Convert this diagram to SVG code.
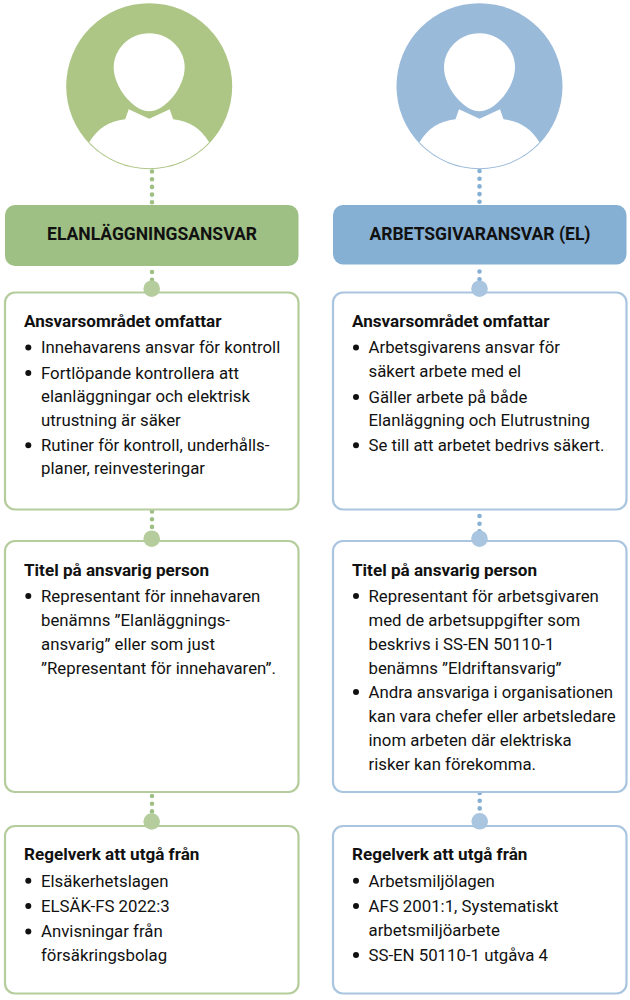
<svg xmlns="http://www.w3.org/2000/svg" width="630" height="1000" viewBox="0 0 630 1000">
<style>
text{font-family:"Roboto","Liberation Sans",sans-serif;font-size:16.8px;fill:#111}
.h{font-weight:700;font-size:17.1px}
.t{font-weight:700;font-size:17.5px;text-anchor:middle}
.gb{fill:#fff;stroke:#b5cd9c;stroke-width:2.2}
.bb{fill:#fff;stroke:#a9c5e0;stroke-width:2.2}
.gd{fill:none;stroke:#9fc084;stroke-width:4.6;stroke-linecap:round;stroke-dasharray:0 7.7}
.bd{fill:none;stroke:#85afd3;stroke-width:4.6;stroke-linecap:round;stroke-dasharray:0 7.7}
circle.d{r:3px;fill:#111}
</style>
<defs>
<g id="person">
<path fill="#fff" d="M0 -53C-20 -53 -35.500 -37 -35.500 -19C-35.500 1 -16 25 0 25C16 25 35.500 1 35.500 -19C35.500 -37 20 -53 0 -53Z"/>
<path fill="#fff" d="M-20.500 23L0 32.500L20.500 23L24 33C41 35 51 42 60 56A82 82 0 0 1 -60 56C-51 42 -41 35 -24 33Z"/>
</g>
</defs>
<g id="connectors">
<path class="gd" d="M152 171.500V205M152 272V283M152 511.500V532M152 796V816"/>
<path class="bd" d="M479.500 171V205M479.500 271.500V283M479.500 516V532M479.700 793V816"/>
</g>
<g id="person-green">
<circle cx="149.200" cy="86.200" r="83" fill="#adc585"/>
<use href="#person" x="149.200" y="86.200"/>
</g>
<g id="person-blue">
<circle cx="479.500" cy="86.200" r="83" fill="#9abada"/>
<use href="#person" x="479.500" y="86.200"/>
</g>
<g id="head-green">
<rect x="5" y="205" width="293.500" height="61" rx="10" fill="#9fc084"/>
<text class="t" x="152" y="240">ELANLÄGGNINGSANSVAR</text>
</g>
<g id="head-blue">
<rect x="333" y="205" width="293.500" height="59.500" rx="10" fill="#85afd3"/>
<text class="t" x="480" y="240">ARBETSGIVARANSVAR (EL)</text>
</g>
<g id="box-g1">
<rect class="gb" x="5" y="292.500" width="293.500" height="217" rx="10"/>
<circle cx="151.700" cy="288.700" r="8.300" fill="#b5cd9c"/>
<text class="h" x="24" y="327.300">Ansvarsområdet omfattar</text>
<circle class="d" cx="28.300" cy="347.500"/><text x="41" y="353.300">Innehavarens ansvar för kontroll</text>
<circle class="d" cx="28.300" cy="373"/><text x="41" y="379">Fortlöpande kontrollera att</text>
<text x="41" y="402">elanläggningar och elektrisk</text>
<text x="41" y="425.500">utrustning är säker</text>
<circle class="d" cx="28.300" cy="445.300"/><text x="41" y="451">Rutiner för kontroll, underhålls-</text>
<text x="41" y="474.300">planer, reinvesteringar</text>
</g>
<g id="box-b1">
<rect class="bb" x="333" y="292.500" width="293.500" height="217" rx="10"/>
<circle cx="479.500" cy="288.700" r="8.300" fill="#a9c5e0"/>
<text class="h" x="352" y="327.300">Ansvarsområdet omfattar</text>
<circle class="d" cx="356" cy="347.500"/><text x="368.500" y="353.300">Arbetsgivarens ansvar för</text>
<text x="368.500" y="377">säkert arbete med el</text>
<circle class="d" cx="356" cy="397"/><text x="368.500" y="402.500">Gäller arbete på både</text>
<text x="368.500" y="426">Elanläggning och Elutrustning</text>
<circle class="d" cx="356" cy="445.300"/><text x="368.500" y="451">Se till att arbetet bedrivs säkert.</text>
</g>
<g id="box-g2">
<rect class="gb" x="5" y="541" width="293.500" height="251" rx="10"/>
<circle cx="151.700" cy="538.700" r="8.300" fill="#b5cd9c"/>
<text class="h" x="24" y="576">Titel på ansvarig person</text>
<circle class="d" cx="28.300" cy="596"/><text x="41" y="602">Representant för innehavaren</text>
<text x="41" y="625.500">benämns ”Elanläggnings-</text>
<text x="41" y="649.500">ansvarig” eller som just</text>
<text x="41" y="673.500">”Representant för innehavaren”.</text>
</g>
<g id="box-b2">
<rect class="bb" x="333" y="541" width="293.500" height="251" rx="10"/>
<circle cx="479.500" cy="538.700" r="8.300" fill="#a9c5e0"/>
<text class="h" x="352" y="576">Titel på ansvarig person</text>
<circle class="d" cx="356" cy="596"/><text x="368.500" y="602">Representant för arbetsgivaren</text>
<text x="368.500" y="625.500">med de arbetsuppgifter som</text>
<text x="368.500" y="649.500">beskrivs i SS-EN 50110-1</text>
<text x="368.500" y="673.500">benämns ”Eldriftansvarig”</text>
<circle class="d" cx="356" cy="692"/><text x="368.500" y="697.500">Andra ansvariga i organisationen</text>
<text x="368.500" y="721.500">kan vara chefer eller arbetsledare</text>
<text x="368.500" y="745.500">inom arbeten där elektriska</text>
<text x="368.500" y="769.500">risker kan förekomma.</text>
</g>
<g id="box-g3">
<rect class="gb" x="5" y="826" width="293.500" height="167.500" rx="10"/>
<circle cx="151.700" cy="821.500" r="8.300" fill="#b5cd9c"/>
<text class="h" x="24" y="860">Regelverk att utgå från</text>
<circle class="d" cx="28.300" cy="880.700"/><text x="41" y="886.500">Elsäkerhetslagen</text>
<circle class="d" cx="28.300" cy="906"/><text x="41" y="912">ELSÄK-FS 2022:3</text>
<circle class="d" cx="28.300" cy="931.500"/><text x="41" y="937">Anvisningar från</text>
<text x="41" y="961">försäkringsbolag</text>
</g>
<g id="box-b3">
<rect class="bb" x="333" y="826" width="293.500" height="167.500" rx="10"/>
<circle cx="479.700" cy="821.300" r="8.300" fill="#a9c5e0"/>
<text class="h" x="352" y="860">Regelverk att utgå från</text>
<circle class="d" cx="356" cy="880.700"/><text x="368.500" y="886.500">Arbetsmiljölagen</text>
<circle class="d" cx="356" cy="906"/><text x="368.500" y="912">AFS 2001:1, Systematiskt</text>
<text x="368.500" y="935.500">arbetsmiljöarbete</text>
<circle class="d" cx="356" cy="955"/><text x="368.500" y="961">SS-EN 50110-1 utgåva 4</text>
</g>
</svg>
